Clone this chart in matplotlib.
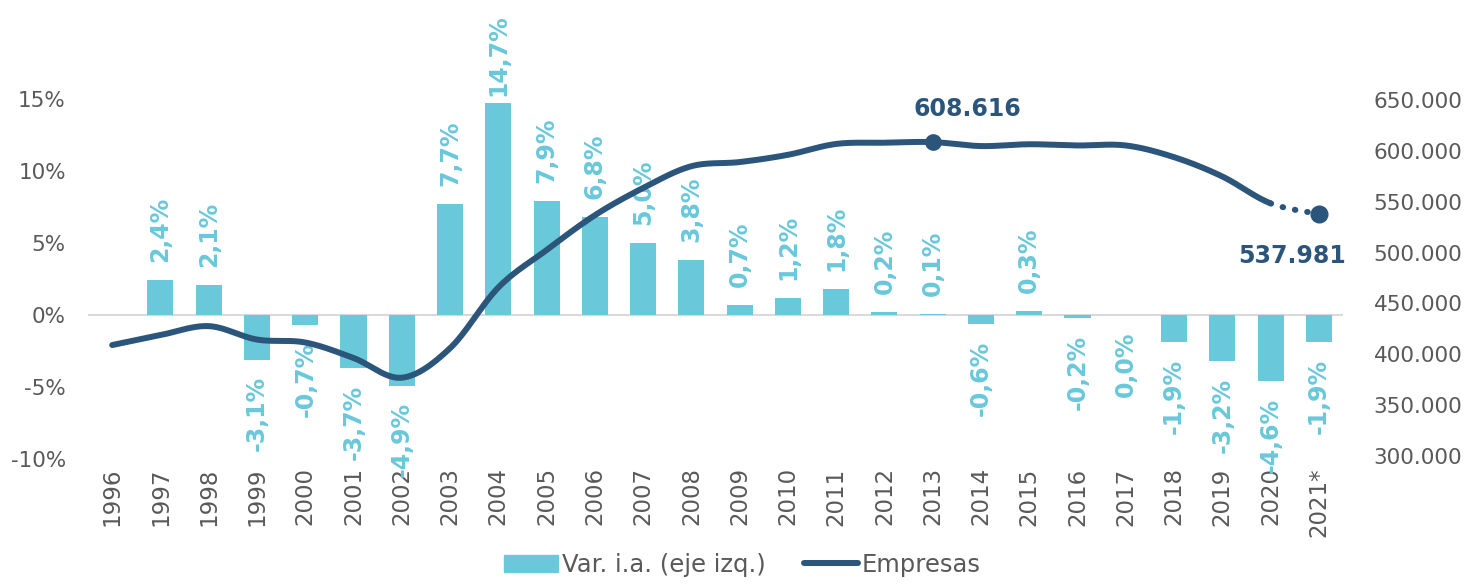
import numpy as np
import matplotlib
matplotlib.use("Agg")
import matplotlib.pyplot as plt
from matplotlib.patches import Patch
from matplotlib.lines import Line2D

years = ["1996", "1997", "1998", "1999", "2000", "2001", "2002", "2003", "2004",
         "2005", "2006", "2007", "2008", "2009", "2010", "2011", "2012", "2013",
         "2014", "2015", "2016", "2017", "2018", "2019", "2020", "2021*"]

# variación interanual (%), sin dato en 1996
var_ia = [np.nan, 2.4, 2.1, -3.1, -0.7, -3.7, -4.9, 7.7, 14.7, 7.9, 6.8, 5.0, 3.8,
          0.7, 1.2, 1.8, 0.2, 0.1, -0.6, 0.3, -0.2, 0.0, -1.9, -3.2, -4.6, -1.9]

empresas = [409100, 418900, 427700, 414500, 411600, 396400, 377000, 406000, 465700,
            502500, 536700, 563500, 584900, 589000, 596100, 606800, 608000, 608616,
            604700, 606500, 605300, 605300, 593800, 574800, 548400, 537981]

left_ticks = [-10, -5, 0, 5, 10, 15]
right_ticks = [300000, 350000, 400000, 450000, 500000, 550000, 600000, 650000]

BAR = "#69C8DA"
LINE = "#2B557A"
GREY = "#595959"


def smooth(x, y, n=40):
    # bezier smoothing like Excel's "smoothed line"
    x = np.asarray(x, float)
    y = np.asarray(y, float)
    px, py = [], []
    for i in range(len(x) - 1):
        i0, i3 = max(i - 1, 0), min(i + 2, len(x) - 1)
        p0 = np.array([x[i], y[i]])
        p3 = np.array([x[i + 1], y[i + 1]])
        c1 = p0 + (p3 - np.array([x[i0], y[i0]])) / 6
        c2 = p3 - (np.array([x[i3], y[i3]]) - p0) / 6
        t = np.linspace(0, 1, n)[:, None]
        pts = ((1 - t) ** 3) * p0 + 3 * ((1 - t) ** 2) * t * c1 + 3 * (1 - t) * t ** 2 * c2 + t ** 3 * p3
        px.append(pts[:, 0])
        py.append(pts[:, 1])
    return px, py


fig = plt.figure(figsize=(14.7, 5.84), dpi=100)
ax = fig.add_axes([0.0599, 0.214, 0.8537, 0.786])
ax2 = ax.twinx()

idx = np.arange(len(years))
vals = np.array(var_ia)
ax.axhline(0, color="#D9D9D9", lw=1.5, zorder=1)
ax.bar(idx, vals, width=0.54, color=BAR, zorder=2)

for i, v in enumerate(vals):
    if np.isnan(v):
        continue
    txt = f"{v:.1f}".replace(".", ",") + "%"
    if v > 0:
        # the tallest label is pushed down to stay inside the chart
        off = 13 if v < 12 else 5
        ax.annotate(txt, (i, v), xytext=(0, off), textcoords="offset points",
                    rotation=90, ha="center", va="bottom", color=BAR,
                    fontsize=17, fontweight="bold", zorder=3)
    else:
        ax.annotate(txt, (i, v), xytext=(0, -12), textcoords="offset points",
                    rotation=90, ha="center", va="top", color=BAR,
                    fontsize=17, fontweight="bold", zorder=3)

ax.set_xlim(-0.5, len(years) - 0.5)
ax.set_ylim(-10, 21.875)
ax.set_yticks(left_ticks)
ax.set_yticklabels([f"{t}%" for t in left_ticks])
ax.set_xticks(idx)
ax.set_xticklabels(years, rotation=90)

# línea suavizada, último tramo punteado
sx, sy = smooth(idx, empresas)
ax2.plot(np.concatenate(sx[:-1]), np.concatenate(sy[:-1]), color=LINE, lw=4.3,
         solid_capstyle="round", zorder=4)
ax2.plot(sx[-1], sy[-1], color=LINE, lw=4.3, linestyle=(0, (0.1, 2.0)),
         dash_capstyle="round", zorder=4)
ax2.plot([idx[17]], [empresas[17]], "o", color=LINE, markersize=11, zorder=5)
ax2.plot([idx[-1]], [empresas[-1]], "o", color=LINE, markersize=12, zorder=5)

ax2.annotate("608.616", (idx[17], empresas[17]), xytext=(25, 24), textcoords="offset points",
             ha="center", va="center", color=LINE, fontsize=17, fontweight="bold")
ax2.annotate("537.981", (idx[-1], empresas[-1]), xytext=(-19, -30), textcoords="offset points",
             ha="center", va="center", color=LINE, fontsize=17, fontweight="bold")

ax2.set_ylim(297050, 748300)
ax2.set_yticks(right_ticks)
ax2.set_yticklabels([f"{t:,}".replace(",", ".") for t in right_ticks])

for a in (ax, ax2):
    for s in a.spines.values():
        s.set_visible(False)
    a.tick_params(length=0, labelsize=15.5, colors=GREY)
ax.tick_params(axis="x", pad=6, labelsize=16.5)
ax.tick_params(axis="y", pad=16)
ax2.tick_params(axis="y", pad=22)

handles = [Patch(color=BAR), Line2D([0], [0], color=LINE, lw=4.3, solid_capstyle="round")]
fig.legend(handles, ["Var. i.a. (eje izq.)", "Empresas"], loc="center",
           bbox_to_anchor=(0.505, 0.033), ncol=2, frameon=False, fontsize=17.5,
           handlelength=2.2, handletextpad=0.15, columnspacing=1.6, labelcolor=GREY)

fig.savefig("out.png", dpi=100)
